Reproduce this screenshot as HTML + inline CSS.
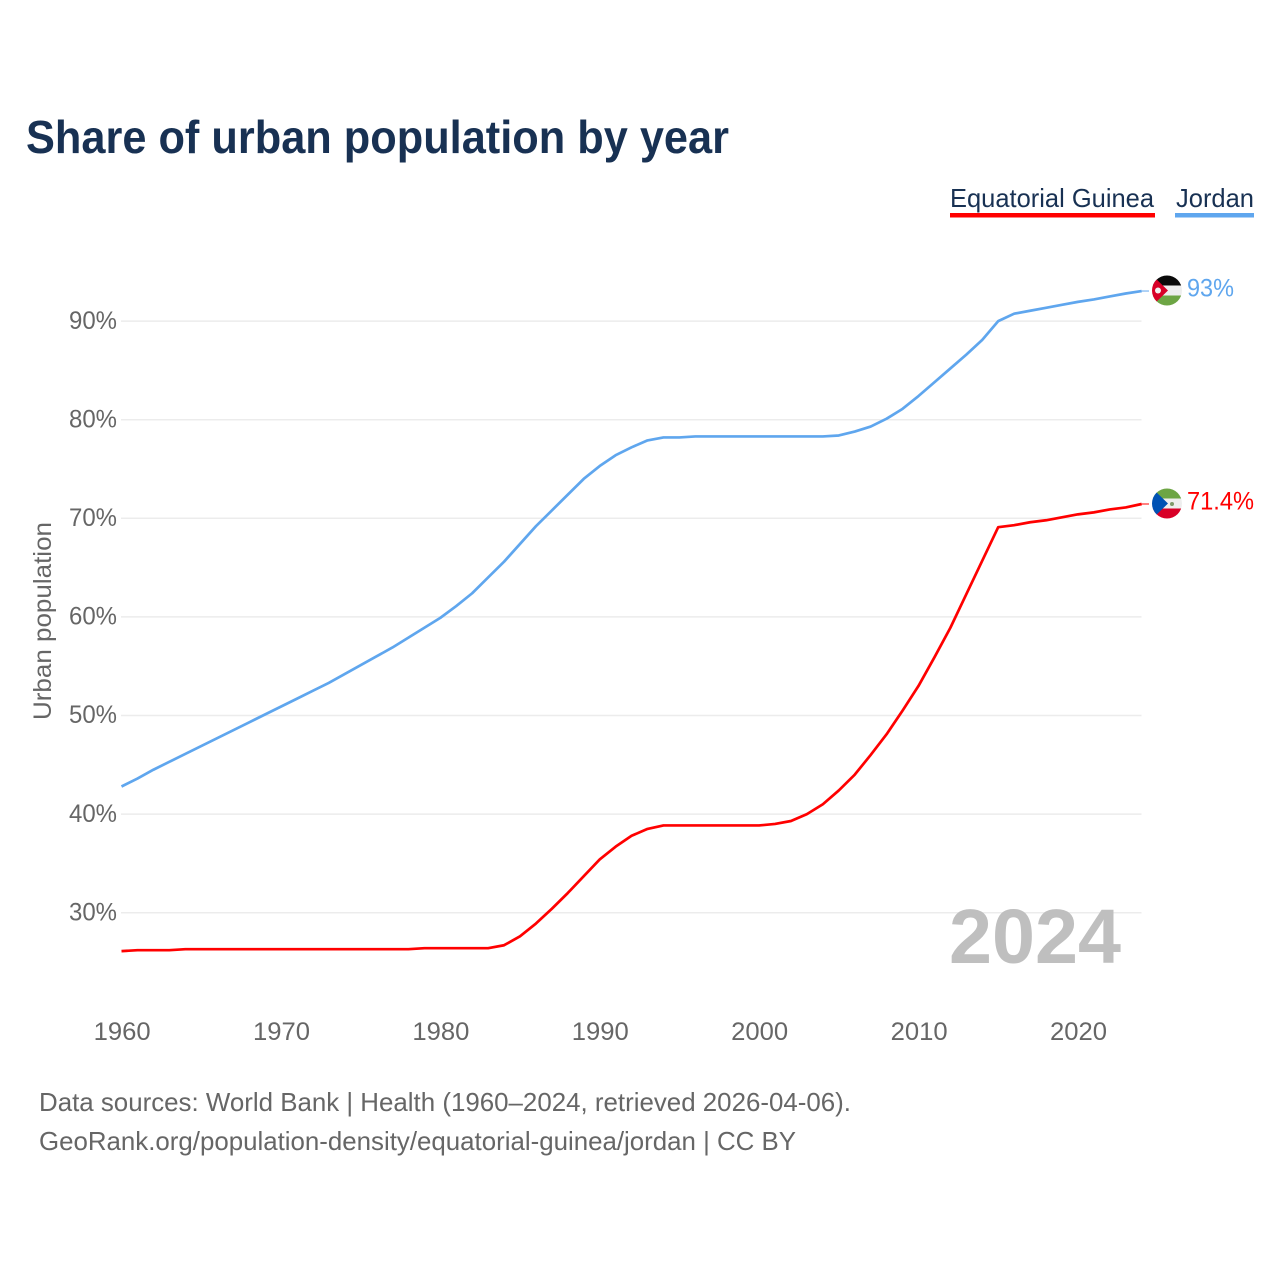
<!DOCTYPE html>
<html lang="en">
<head>
<meta charset="utf-8">
<title>Share of urban population by year</title>
<style>
html,body{margin:0;padding:0;background:#fff;width:1280px;height:1280px;overflow:hidden}
svg{display:block;font-family:"Liberation Sans",sans-serif}
</style>
</head>
<body>
<svg id="chart" width="1280" height="1280" viewBox="0 0 1280 1280" xmlns="http://www.w3.org/2000/svg">
  <defs>
    <clipPath id="flag-clip-jo"><circle cx="1167" cy="290.5" r="15"/></clipPath>
    <clipPath id="flag-clip-gq"><circle cx="1167" cy="503.5" r="15"/></clipPath>
  </defs>
  <rect width="1280" height="1280" fill="#fff"/>
  <text x="26" y="153" font-size="46" font-weight="700" fill="#183153" textLength="703" lengthAdjust="spacingAndGlyphs">Share of urban population by year</text>

  <g>
    <g>
      <text x="950" y="207" font-size="26" fill="#183153" textLength="204" lengthAdjust="spacingAndGlyphs">Equatorial Guinea</text>
      <rect x="950" y="213" width="205" height="4.5" fill="#ff0000"/>
    </g>
    <g>
      <text x="1176" y="207" font-size="26" fill="#183153" textLength="78" lengthAdjust="spacingAndGlyphs">Jordan</text>
      <rect x="1175" y="213" width="79" height="4.5" fill="#5fa6ee"/>
    </g>
  </g>

  <g id="grid"></g>
  <g id="y-ticks"></g>
  <g id="x-ticks"></g>
  <text transform="translate(51,720) rotate(-90)" font-size="25" fill="#666" textLength="198" lengthAdjust="spacingAndGlyphs">Urban population</text>

  <text x="949" y="963" font-size="77" font-weight="700" fill="#bfbfbf" textLength="172" lengthAdjust="spacingAndGlyphs">2024</text>

  <g id="series"></g>

  <g clip-path="url(#flag-clip-jo)">
    <rect x="1152" y="275" width="30" height="10.5" fill="#0a0a0a"/>
    <rect x="1152" y="285.5" width="30" height="10" fill="#eeeeee"/>
    <rect x="1152" y="295.5" width="30" height="10.5" fill="#6da544"/>
    <path d="M1152 275 L1168 290.5 L1152 306 Z" fill="#d80027"/>
    <circle cx="1158" cy="290.5" r="3" fill="#f0f0f0"/>
  </g>
  <g clip-path="url(#flag-clip-gq)">
    <rect x="1152" y="488" width="30" height="10.5" fill="#6da544"/>
    <rect x="1152" y="498.5" width="30" height="10" fill="#eeeeee"/>
    <rect x="1152" y="508.5" width="30" height="10.5" fill="#d80027"/>
    <path d="M1152 488 L1168 503.5 L1152 519 Z" fill="#0052b4"/>
    <circle cx="1172" cy="504" r="2" fill="#7f9a6a"/>
  </g>

  <text x="1187" y="296.5" font-size="25" fill="#5fa6ee" textLength="47" lengthAdjust="spacingAndGlyphs">93%</text>
  <text x="1187" y="509.5" font-size="25" fill="#ff0000" textLength="67" lengthAdjust="spacingAndGlyphs">71.4%</text>

  <text x="39" y="1111" font-size="26" fill="#666" textLength="812" lengthAdjust="spacingAndGlyphs">Data sources: World Bank | Health (1960–2024, retrieved 2026-04-06).</text>
  <text x="39" y="1150" font-size="26" fill="#666" textLength="757" lengthAdjust="spacingAndGlyphs">GeoRank.org/population-density/equatorial-guinea/jordan | CC BY</text>
</svg>
<script>
const startYear = 1960;
const yTickValues = [30, 40, 50, 60, 70, 80, 90];
const xTickYears = [1960, 1970, 1980, 1990, 2000, 2010, 2020];
const jordanValues = [42.8,43.6,44.5,45.3,46.1,46.9,47.7,48.5,49.3,50.1,50.9,51.7,52.5,53.3,54.2,55.1,56.0,56.9,57.9,58.9,59.9,61.1,62.4,64.0,65.6,67.4,69.2,70.8,72.4,74.0,75.3,76.4,77.2,77.9,78.2,78.2,78.3,78.3,78.3,78.3,78.3,78.3,78.3,78.3,78.3,78.4,78.8,79.3,80.1,81.1,82.4,83.8,85.2,86.6,88.1,90.0,90.75,91.05,91.35,91.65,91.95,92.2,92.5,92.8,93.05];
const guineaValues = [26.1,26.2,26.2,26.2,26.3,26.3,26.3,26.3,26.3,26.3,26.3,26.3,26.3,26.3,26.3,26.3,26.3,26.3,26.3,26.4,26.4,26.4,26.4,26.4,26.7,27.6,28.9,30.4,32.0,33.7,35.4,36.7,37.8,38.5,38.85,38.85,38.85,38.85,38.85,38.85,38.85,39.0,39.3,40.0,41.0,42.4,44.0,46.0,48.1,50.5,53.0,55.9,58.9,62.3,65.7,69.1,69.3,69.6,69.8,70.1,70.4,70.6,70.9,71.1,71.45];

const SVG_NS = 'http://www.w3.org/2000/svg';
function xScale(year) { return 121.5 + (year - 1960) * 15.94; }
function yScale(value) { return 912.7 - (value - 30) * 9.86; }

function makeText(parent, x, y, anchor, content, size) {
  const t = document.createElementNS(SVG_NS, 'text');
  t.setAttribute('x', x);
  t.setAttribute('y', y);
  t.setAttribute('text-anchor', anchor);
  t.setAttribute('font-size', size);
  t.setAttribute('fill', '#666');
  t.textContent = content;
  parent.appendChild(t);
  return t;
}

const gridGroup = document.getElementById('grid');
const yTickGroup = document.getElementById('y-ticks');
yTickValues.forEach(function (v) {
  const line = document.createElementNS(SVG_NS, 'line');
  line.setAttribute('x1', 121);
  line.setAttribute('x2', 1141.5);
  line.setAttribute('y1', yScale(v));
  line.setAttribute('y2', yScale(v));
  line.setAttribute('stroke', '#ececec');
  line.setAttribute('stroke-width', 1.5);
  
  
  gridGroup.appendChild(line);
  const label = makeText(yTickGroup, 117, yScale(v) + 7.7, 'end', v + '%', 25);
  label.setAttribute('textLength', 48);
  label.setAttribute('lengthAdjust', 'spacingAndGlyphs');
  
  
});

const xTickGroup = document.getElementById('x-ticks');
xTickYears.forEach(function (yr) {
  const label = makeText(xTickGroup, xScale(yr) + 0.6, 1040, 'middle', String(yr), 25);
  label.setAttribute('textLength', 57);
  label.setAttribute('lengthAdjust', 'spacingAndGlyphs');
  
  
});

function drawSeries(values, color, name) {
  const group = document.getElementById('series');
  const pts = values.map(function (v, i) {
    return xScale(startYear + i).toFixed(2) + ',' + yScale(v).toFixed(2);
  });
  const line = document.createElementNS(SVG_NS, 'polyline');
  line.setAttribute('points', pts.join(' '));
  line.setAttribute('fill', 'none');
  line.setAttribute('stroke', color);
  line.setAttribute('stroke-width', 2.7);
  line.setAttribute('stroke-linejoin', 'round');
  
  
  group.appendChild(line);
  const lastY = yScale(values[values.length - 1]);
  const stub = document.createElementNS(SVG_NS, 'line');
  stub.setAttribute('x1', xScale(startYear + values.length - 1));
  stub.setAttribute('x2', 1149);
  stub.setAttribute('y1', lastY);
  stub.setAttribute('y2', lastY);
  stub.setAttribute('stroke', color);
  stub.setAttribute('stroke-width', 1);
  
  
  group.appendChild(stub);
}
drawSeries(jordanValues, '#5fa6ee', 'line-jordan');
drawSeries(guineaValues, '#ff0000', 'line-equatorial-guinea');
</script>
</body>
</html>
